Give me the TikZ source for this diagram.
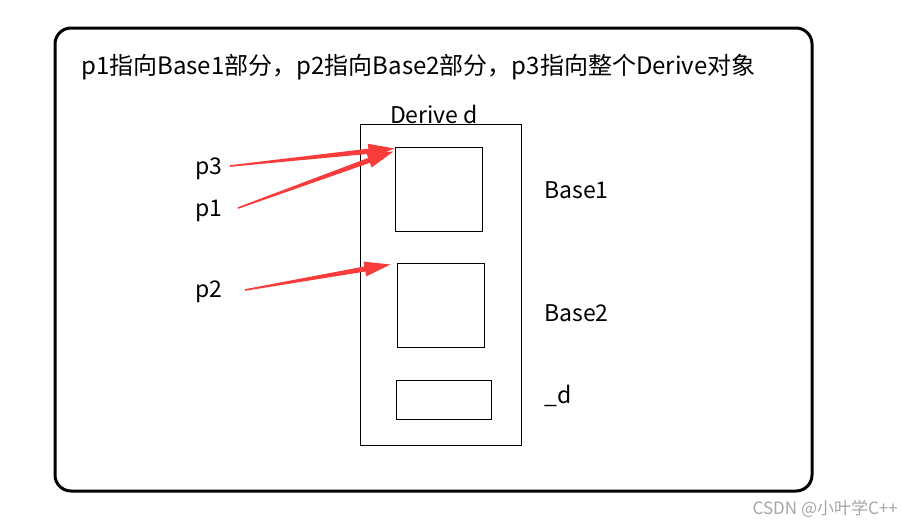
\documentclass[tikz,border=0pt]{standalone}
\usepackage{fontspec}
\setmainfont{Noto Sans CJK SC}
\usetikzlibrary{calc}
\definecolor{arrred}{RGB}{248,60,60}
\newcommand{\fatarrow}[2]{%
  \fill[arrred] ($(#1)!0.8pt!90:(#2)$) -- ($($(#2)!26pt!(#1)$)!2.6pt!90:(#2)$)
    -- ($($(#2)!26pt!(#1)$)!7.5pt!90:(#2)$) -- (#2)
    -- ($($(#2)!26pt!(#1)$)!7.5pt!-90:(#2)$) -- ($($(#2)!26pt!(#1)$)!2.6pt!-90:(#2)$)
    -- ($(#1)!0.8pt!-90:(#2)$) -- cycle;}
\begin{document}
\begin{tikzpicture}[x=1pt,y=-1pt,
  lbl/.style={font=\fontsize{23}{27}\selectfont, inner sep=0pt},
  bx/.style={draw=black, line width=1pt, inner sep=0pt}]
\useasboundingbox (0,0) rectangle (902,525);
\fill[white] (0,0) rectangle (902,525);
\draw[line width=3pt, rounded corners=16pt] (55,28) rectangle (812,491);
\node[lbl, font=\fontsize{24}{28}\selectfont, anchor=west] (title) at (81,67) {p1指向Base1部分，p2指向Base2部分，p3指向整个Derive对象};
% boxes
\node[bx, minimum width=161pt, minimum height=321pt] (derive) at (440.5,284.5) {};
\node[lbl, anchor=south] (dlabel) at (434,124) {Derive d};
\node[bx, minimum width=87pt, minimum height=84pt] (b1) at (438.5,189) {};
\node[bx, minimum width=87pt, minimum height=84pt] (b2) at (440.5,305) {};
\node[bx, minimum width=95pt, minimum height=39pt] (dd) at (443.5,399.5) {};
\node[lbl, anchor=west] (l1) at (544,190) {Base1};
\node[lbl, anchor=west] (l2) at (544,313) {Base2};
\node[lbl, anchor=west] (l3) at (544,396) {\_d};
% pointers
\node[lbl, anchor=west] (p3) at (195,169) {p3};
\node[lbl, anchor=west] (p1) at (195,211) {p1};
\node[lbl, anchor=west] (p2) at (195,292) {p2};
\coordinate (t3) at (230,166);
\coordinate (t1) at (238,208);
\coordinate (t2) at (245,290);
\coordinate (h3) at ($(b1.north west)+(0,2)$);
\coordinate (h1) at ($(b1.north west)+(-1,5)$);
\coordinate (h2) at ($(b2.north west)+(-6,2)$);
\fatarrow{t3}{h3}
\fatarrow{t1}{h1}
\fatarrow{t2}{h2}
\node[font=\fontsize{17}{20}\selectfont, text=black!35, anchor=east, inner sep=0pt] (wm) at (898,509) {CSDN @小叶学C++};
\end{tikzpicture}
\end{document}
